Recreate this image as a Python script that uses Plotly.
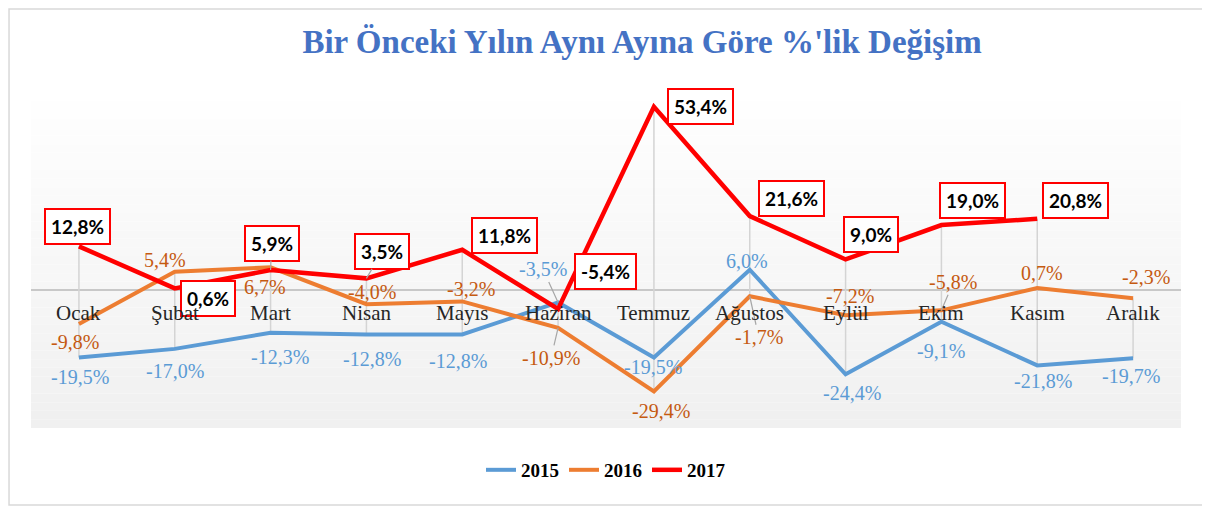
import plotly.graph_objects as go

MONTHS = ["Ocak", "Şubat", "Mart", "Nisan", "Mayıs", "Haziran",
          "Temmuz", "Ağustos", "Eylül", "Ekim", "Kasım", "Aralık"]
Y2015 = [-19.5, -17.0, -12.3, -12.8, -12.8, -3.5, -19.5, 6.0, -24.4, -9.1, -21.8, -19.7]
Y2016 = [-9.8, 5.4, 6.7, -4.0, -3.2, -10.9, -29.4, -1.7, -7.2, -5.8, 0.7, -2.3]
Y2017 = [12.8, 0.6, 5.9, 3.5, 11.8, -5.4, 53.4, 21.6, 9.0, 19.0, 20.8, None]

# label offsets in pixels (dx right, dy up) and which labels get a leader line
OFF_2015 = [(1, -20), (0, -22), (9, -24), (6, -25), (-4, -27), (-15, 33),
            (-1, -10), (-3, 9), (6, -19), (0, -29), (6, -16), (-2, -18)]
OFF_2016 = [(-4, -18), (-10, 12), (-6, -20), (6, 12), (9, 12), (-7, -30),
            (7, -19), (9, -41), (4, 19), (12, 28), (5, 15), (13, 21)]
OFF_2017 = [(-1, 20), (33, -10), (1, 27), (16, 27), (42, 14), (47, 37),
            (47, 0), (42, 18), (25, 25), (31, 25), (38, 18)]
LEAD_2015 = {5}
LEAD_2016 = {5, 7, 9}
LEAD_2017 = {2, 3}

SERIF = "Liberation Serif"


def pct(v):
    return f"{v:.1f}".replace(".", ",") + "%"


fig = go.Figure()

# high-low lines between the series at each month
hx, hy = [], []
for i, m in enumerate(MONTHS):
    vals = [s[i] for s in (Y2015, Y2016, Y2017) if s[i] is not None]
    hx += [m, m, None]
    hy += [max(vals), min(vals), None]
fig.add_trace(go.Scatter(x=hx, y=hy, mode="lines", showlegend=False, hoverinfo="skip",
                         line=dict(color="#d4d4d4", width=1.5)))

series = [
    ("2015", Y2015, "#5b9bd5", 4),
    ("2016", Y2016, "#ed7d31", 4),
    ("2017", Y2017, "#ff0000", 4.5),
]
for name, ys, color, w in series:
    fig.add_trace(go.Scatter(x=MONTHS, y=ys, name=name, mode="lines",
                             line=dict(color=color, width=w)))


def add_labels(ys, offsets, leaders, boxed, color):
    for i, (v, (dx, dy)) in enumerate(zip(ys, offsets)):
        if v is None:
            continue
        if boxed:
            font = dict(family="Lato", size=19, color="black", weight="bold")
            style = dict(bgcolor="white", bordercolor="#ff0000", borderwidth=2, borderpad=5)
        else:
            font = dict(family=SERIF, size=20, color=color)
            style = {}
        if i in leaders:
            fig.add_annotation(x=MONTHS[i], y=v, text=pct(v), showarrow=True, ax=dx, ay=-dy,
                               arrowhead=0, arrowwidth=1.2, arrowcolor="#a6a6a6",
                               standoff=0, font=font, **style)
        else:
            fig.add_annotation(x=MONTHS[i], y=v, text=pct(v), showarrow=False,
                               xshift=dx, yshift=dy, font=font, **style)


add_labels(Y2015, OFF_2015, LEAD_2015, False, "#5b9bd5")
add_labels(Y2016, OFF_2016, LEAD_2016, False, "#c55a11")
add_labels(Y2017, OFF_2017, LEAD_2017, True, None)

# month names sit just under the zero line
for m in MONTHS:
    fig.add_annotation(x=m, y=0, text=m, showarrow=False, yanchor="top", yshift=-9,
                       font=dict(family=SERIF, size=21, color="#262626"))

# soft vertical gradient behind the plot area
shapes = []
n = 40
for k in range(n):
    t = k / (n - 1)
    c = int(round(240 + (255 - 240) * t))
    shapes.append(dict(type="rect", xref="paper", yref="paper", x0=0, x1=1,
                       y0=k / n, y1=(k + 1) / n, fillcolor=f"rgb({c},{c},{c})",
                       line=dict(width=0), layer="below"))
# outer frame
shapes.append(dict(type="rect", xref="paper", yref="paper", x0=-0.0191, x1=1.0209,
                   y0=-0.2238, y1=1.218, line=dict(color="#d9d9d9", width=1.5),
                   layer="below"))

# the page adds an 8px body margin, so margins are shifted to compensate
fig.update_layout(
    width=1210, height=510,
    margin=dict(l=23, r=37, t=76, b=90),
    paper_bgcolor="white", plot_bgcolor="rgba(0,0,0,0)",
    shapes=shapes,
    title=dict(text="Bir Önceki Yılın Aynı Ayına Göre %'lik Değişim",
               x=0.524, xanchor="center", y=0.935, yanchor="middle",
               font=dict(family=SERIF, size=33, color="#4472c4", weight="bold")),
    xaxis=dict(range=[-0.5, 11.5], showgrid=False, showticklabels=False,
               zeroline=False, showline=False, fixedrange=True),
    yaxis=dict(range=[-40, 60], showgrid=False, showticklabels=False,
               zeroline=True, zerolinecolor="#c8c8c8", zerolinewidth=1.5, fixedrange=True),
    legend=dict(orientation="h", x=0.5, xanchor="center", y=-0.122, yanchor="middle",
                font=dict(family=SERIF, size=19, color="black", weight="bold"),
                bgcolor="rgba(0,0,0,0)"),
    showlegend=True,
)

fig.write_html("out.html")
